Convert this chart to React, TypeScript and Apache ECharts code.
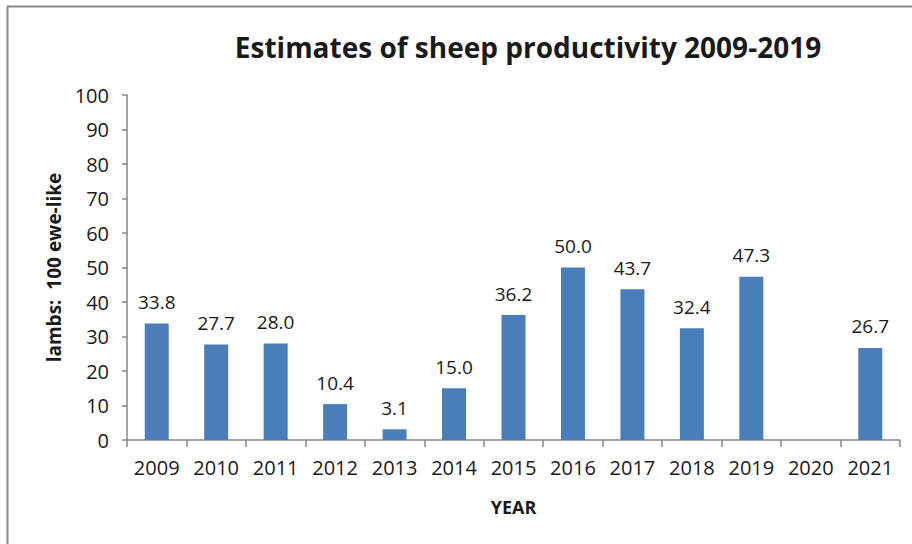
import React, { useEffect, useRef } from "react";
import * as echarts from "echarts";

const years = ["2009", "2010", "2011", "2012", "2013", "2014", "2015", "2016", "2017", "2018", "2019", "2020", "2021"];
const lambsPer100Ewes: (number | null)[] = [33.8, 27.7, 28.0, 10.4, 3.1, 15.0, 36.2, 50.0, 43.7, 32.4, 47.3, null, 26.7];
const yTicks = { min: 0, max: 100, interval: 10 };

const FONT = "'Open Sans', 'DejaVu Sans', sans-serif";

export default function App() {
  const ref = useRef<HTMLDivElement>(null);
  useEffect(() => {
    document.body.style.margin = "0";
    if (!ref.current) return;
    const chart = echarts.init(ref.current, undefined, { renderer: "svg" });
    chart.setOption({
      animation: false,
      backgroundColor: "#ffffff",
      title: {
        text: "Estimates of sheep productivity 2009-2019",
        left: 523,
        textAlign: "center",
        top: 28,
        textStyle: { fontFamily: FONT, fontWeight: "bold", fontSize: 28, color: "#1a1a1a" },
      },
      graphic: [
        { type: "line", shape: { x1: 7, y1: 6.5, x2: 912, y2: 6.5 }, style: { stroke: "#8a8a8a", lineWidth: 2 } },
        { type: "line", shape: { x1: 7.5, y1: 6, x2: 7.5, y2: 544 }, style: { stroke: "#8a8a8a", lineWidth: 2 } },
      ],
      grid: { left: 127, right: 12, top: 95, bottom: 104, containLabel: false },
      xAxis: {
        type: "category",
        data: years,
        name: "YEAR",
        nameLocation: "middle",
        nameGap: 58,
        nameTextStyle: { fontFamily: FONT, fontWeight: "bold", fontSize: 18, color: "#1a1a1a" },
        axisLine: { lineStyle: { color: "#868686", width: 1.5 } },
        axisTick: { show: true, alignWithLabel: false, length: 7, lineStyle: { color: "#868686", width: 1.5 } },
        axisLabel: { fontFamily: FONT, fontSize: 20, color: "#1a1a1a", margin: 17, interval: 0 },
      },
      yAxis: {
        type: "value",
        min: yTicks.min,
        max: yTicks.max,
        interval: yTicks.interval,
        name: "lambs:  100 ewe-like",
        nameLocation: "middle",
        nameGap: 62,
        nameRotate: 90,
        nameTextStyle: { fontFamily: FONT, fontWeight: "bold", fontSize: 19, color: "#1a1a1a" },
        splitLine: { show: false },
        axisLine: { show: true, lineStyle: { color: "#868686", width: 1.5 } },
        axisTick: { show: true, length: 5, lineStyle: { color: "#868686", width: 1.5 } },
        axisLabel: { fontFamily: FONT, fontSize: 20, color: "#1a1a1a", margin: 18 },
      },
      series: [
        {
          type: "bar",
          data: lambsPer100Ewes,
          barWidth: 24,
          itemStyle: { color: "#4A7EBB" },
          label: {
            show: true,
            position: "top",
            distance: 12,
            formatter: (p: any) => (p.value == null ? "" : Number(p.value).toFixed(1)),
            fontFamily: FONT,
            fontSize: 19,
            color: "#1a1a1a",
          },
        },
      ],
    });
    return () => chart.dispose();
  }, []);
  return <div ref={ref} style={{ width: 912, height: 544 }} />;
}
